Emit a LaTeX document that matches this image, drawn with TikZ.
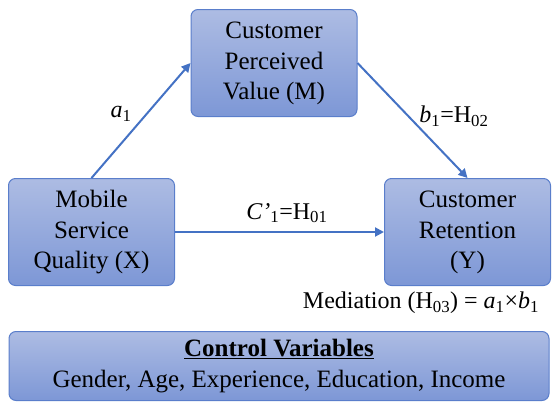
\documentclass[tikz,border=0pt]{standalone}
\usepackage{fontspec}
\setmainfont{Liberation Serif}
\usetikzlibrary{arrows.meta}
\definecolor{boxtop}{HTML}{ADBCE3}
\definecolor{boxbot}{HTML}{7D97D6}
\definecolor{boxline}{HTML}{5A7ECB}
\definecolor{pathblue}{HTML}{4472C4}
\newcommand{\vlines}[1]{\renewcommand{\arraystretch}{1.05}\begin{tabular}{@{}c@{}}#1\end{tabular}}

\begin{document}
\begin{tikzpicture}[x=1pt,y=-1pt,
  var/.style={draw=boxline,line width=1pt,rounded corners=7pt,top color=boxtop,bottom color=boxbot,
    minimum width=166pt,minimum height=107pt,inner sep=0pt,font=\fontsize{25}{29}\selectfont},
  link/.style={draw=pathblue,line width=2pt,-{Triangle[length=9pt,width=9pt]}},
  lbl/.style={inner sep=0pt,font=\fontsize{24}{29}\selectfont}]
  \useasboundingbox(0,0)rectangle(555,402);
  % variables
  \node[var](M)at(274,63){\vlines{Customer\\Perceived\\Value (M)}};
  \node[var](X)at(91.5,232){\vlines{Mobile\\Service\\Quality (X)}};
  \node[var](Y)at(467.5,232){\vlines{Customer\\Retention\\(Y)}};
  \node[var,minimum width=540pt,minimum height=69pt](C)at(279,366)
    {\vlines{\textbf{\underline{Control Variables}}\\Gender, Age, Experience, Education, Income}};
  % paths
  \draw[link](X.north)--(M.west);
  \draw[link](M.east)--(Y.north);
  \draw[link](X.east)--(Y.west);
  \node[lbl](a)at(121,114){\textit{a}\textsubscript{1}};
  \node[lbl](b)at(454,116){\textit{b}\textsubscript{1}=H\textsubscript{02}};
  \node[lbl](c)at(287,213){\textit{C’}\textsubscript{1}=H\textsubscript{01}};
  \node[lbl](med)at(421,303){Mediation (H\textsubscript{03}) = \textit{a}\textsubscript{1}×\textit{b}\textsubscript{1}};
\end{tikzpicture}
\end{document}
